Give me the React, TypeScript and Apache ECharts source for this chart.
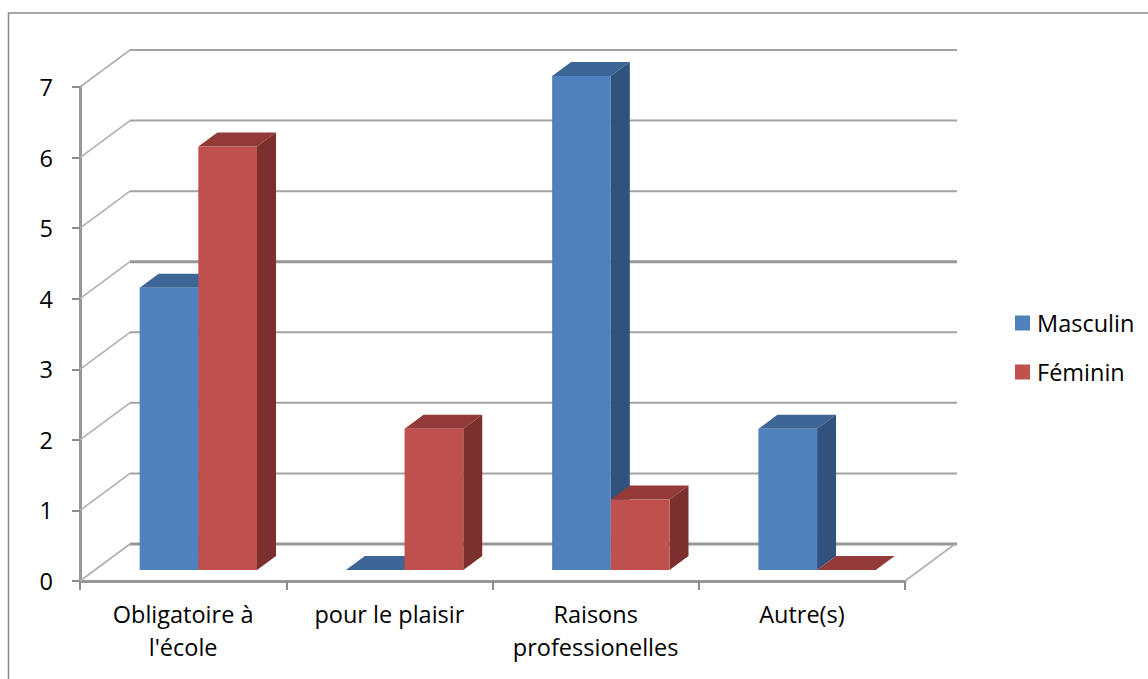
import React, { useEffect, useRef } from "react";
import * as echarts from "echarts";

const categories = ["Obligatoire à\nl'école", "pour le plaisir", "Raisons\nprofessionelles", "Autre(s)"];
const masculin = [4, 0, 7, 2];
const feminin = [6, 2, 1, 0];
const wallTicks = [0, 1, 2, 3, 4, 5, 6, 7];

const GREY = "#a3a3a3";
const WALL_DX = 50;
const WALL_DY = 37;

// A column in the oblique projection: sits slightly behind the front plane of the floor.
const barRenderer = (slot: number, front: string, top: string, side: string) => (params: any, api: any) => {
  const cat = api.value(0);
  const val = api.value(1);
  const band = api.size([1, 0])[0];
  const w = band * 0.2845;
  const [cx, y1Raw] = api.coord([cat, val]);
  const y0Raw = api.coord([cat, 0])[1];
  const x0 = cx - w + slot * w + 15.2;
  const x1 = x0 + w;
  const yb = y0Raw - 11;
  const yt = y1Raw - 11;
  const dx = 19;
  const dy = 14;
  const children: any[] = [];
  children.push({
    type: "polygon",
    shape: { points: [[x0, yt], [x0 + dx, yt - dy], [x1 + dx, yt - dy], [x1, yt]] },
    style: { fill: top },
  });
  if (val > 0) {
    children.push({
      type: "polygon",
      shape: { points: [[x1, yt], [x1 + dx, yt - dy], [x1 + dx, yb - dy], [x1, yb]] },
      style: { fill: side },
    });
    children.push({
      type: "rect",
      shape: { x: x0, y: yt, width: w, height: yb - yt },
      style: { fill: front },
    });
  }
  return { type: "group", children };
};

// Side-wall and back-wall gridlines, plus the right edge of the floor.
const wallRenderer = (params: any, api: any) => {
  const v = api.value(1);
  const y = api.coord([0, v])[1];
  const { x, width } = params.coordSys;
  const heavy = v === 0 || v === 4;
  const children: any[] = [
    {
      type: "line",
      shape: { x1: x, y1: y, x2: x + WALL_DX, y2: y - WALL_DY },
      style: { stroke: "#b0b0b0", lineWidth: 1.6 },
    },
    {
      type: "line",
      shape: { x1: x + WALL_DX, y1: y - WALL_DY, x2: x + width + WALL_DX + 2, y2: y - WALL_DY },
      style: { stroke: heavy ? "#979797" : GREY, lineWidth: heavy ? 3 : 2 },
    },
  ];
  if (v === 0) {
    children.push({
      type: "line",
      shape: { x1: x + width, y1: y, x2: x + width + WALL_DX, y2: y - WALL_DY },
      style: { stroke: "#b0b0b0", lineWidth: 1.6 },
    });
  }
  return { type: "group", children };
};

const FONT = "Open Sans";
const FONT_SIZE = 23.5;

export default function App() {
  const ref = useRef<HTMLDivElement>(null);
  useEffect(() => {
    const chart = echarts.init(ref.current!, undefined, { renderer: "svg" });
    chart.setOption({
      animation: false,
      backgroundColor: "#ffffff",
      textStyle: { fontFamily: FONT },
      grid: { left: 80, right: 243, top: 87, bottom: 98 },
      legend: {
        orient: "vertical",
        left: 1010,
        top: 306,
        itemWidth: 15,
        itemHeight: 15,
        itemGap: 25,
        selectedMode: false,
        data: [
          { name: "Masculin", icon: "rect", itemStyle: { color: "#4f81bd" } },
          { name: "Féminin", icon: "rect", itemStyle: { color: "#c0504d" } },
        ],
        textStyle: { fontFamily: FONT, fontSize: FONT_SIZE, color: "#000", padding: [0, 0, 0, 2] },
      },
      xAxis: {
        type: "category",
        data: categories,
        axisLine: { lineStyle: { color: "#979797", width: 3 } },
        axisTick: { show: true, length: 9, alignWithLabel: false, lineStyle: { color: "#8c8c8c", width: 2 } },
        axisLabel: { interval: 0, margin: 16, fontFamily: FONT, fontSize: FONT_SIZE, color: "#000", lineHeight: 33 },
      },
      yAxis: {
        type: "value",
        min: 0,
        max: 7,
        interval: 1,
        splitLine: { show: false },
        axisLine: { show: true, lineStyle: { color: "#979797", width: 3 } },
        axisTick: { show: true, length: 8, lineStyle: { color: "#8c8c8c", width: 2 } },
        axisLabel: { margin: 27, fontFamily: FONT, fontSize: FONT_SIZE, color: "#000" },
      },
      series: [
        {
          type: "custom",
          name: "walls",
          z: 1,
          silent: true,
          clip: false,
          renderItem: wallRenderer,
          encode: { x: 0, y: 1 },
          data: wallTicks.map((v) => [0, v]),
        },
        {
          type: "custom",
          name: "Masculin",
          z: 2,
          clip: false,
          itemStyle: { color: "#4f81bd" },
          renderItem: barRenderer(0, "#4f81bd", "#3d6595", "#30527c"),
          encode: { x: 0, y: 1 },
          data: masculin.map((v, i) => [i, v]),
        },
        {
          type: "custom",
          name: "Féminin",
          z: 3,
          clip: false,
          itemStyle: { color: "#c0504d" },
          renderItem: barRenderer(1, "#c0504d", "#933a38", "#7b302e"),
          encode: { x: 0, y: 1 },
          data: feminin.map((v, i) => [i, v]),
        },
      ],
      graphic: [
        {
          type: "polyline",
          silent: true,
          z: 10,
          shape: { points: [[8.5, 700], [8.5, 13], [1200, 13]] },
          style: { stroke: "#8a8a8a", lineWidth: 1.5, fill: "none" },
        },
      ],
    });
    return () => chart.dispose();
  }, []);
  return <div ref={ref} style={{ position: "fixed", left: 0, top: 0, width: 1148, height: 679 }} />;
}
